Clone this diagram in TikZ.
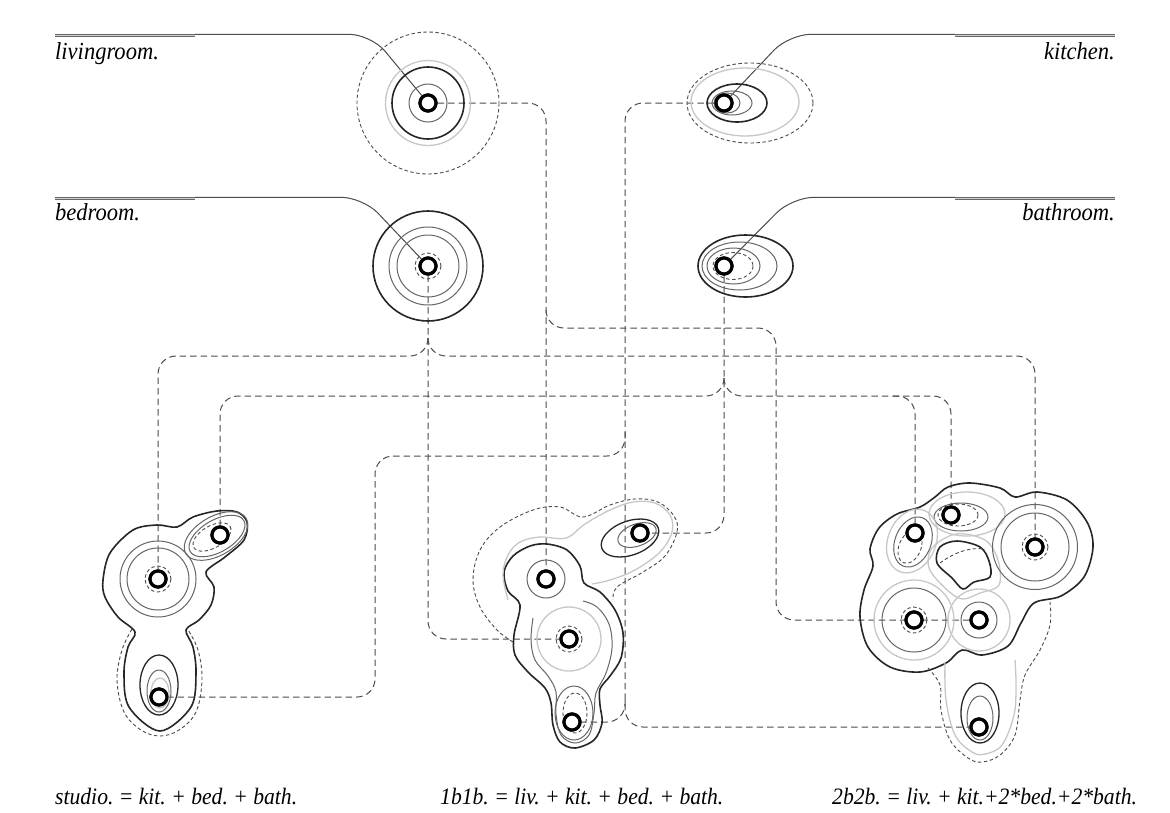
\documentclass[tikz,border=0pt]{standalone}
\usepackage{fontspec}
\setmainfont{Liberation Serif}
\newfontfamily\lblfont[FakeStretch=0.92]{Liberation Serif}
\begin{document}
\frenchspacing
\begin{tikzpicture}[x=1pt,y=-1pt,
  ringst/.style={circle,draw=black,line width=3.2pt,minimum size=16pt,inner sep=0pt,fill=white},
  cthick/.style={draw=black!85,line width=1.6pt},
  cmid/.style={draw=black!60,line width=1pt},
  clight/.style={draw=black!22,line width=1.3pt},
  cdash/.style={draw=black!70,line width=0.9pt,dash pattern=on 3.5pt off 2.5pt},
  conn/.style={draw=black!70,line width=1pt,dash pattern=on 6.5pt off 4pt,rounded corners=18pt},
  leader/.style={draw=black!70,line width=1pt,rounded corners=22pt},
  bar/.style={draw=black!60,line width=0.7pt,double=black!18,double distance=1.6pt},
  lbl/.style={font=\lblfont\fontsize{24.5}{28}\selectfont\itshape,inner sep=0pt},
  lblb/.style={font=\lblfont\fontsize{23.5}{28}\selectfont\itshape,inner sep=0pt},
]
\useasboundingbox (0,0) rectangle (1170,812);
\fill[white] (0,0) rectangle (1170,812);

% ---------- ring nodes ----------
\node[ringst] (liv) at (428,103) {};
\node[ringst] (kit) at (724,103) {};
\node[ringst] (bed) at (428,266) {};
\node[ringst] (bath) at (724,266) {};
\node[ringst] (sbed) at (158,579) {};
\node[ringst] (sbath) at (220,535) {};
\node[ringst] (skit) at (159,697) {};
\node[ringst] (l1) at (546,579) {};
\node[ringst] (b1) at (569,639) {};
\node[ringst] (ba1) at (640,533) {};
\node[ringst] (k1) at (572,722) {};
\node[ringst] (ba2a) at (951,515) {};
\node[ringst] (ba2b) at (915,533) {};
\node[ringst] (bd2a) at (914,620) {};
\node[ringst] (bd2b) at (1035,547) {};
\node[ringst] (lv2) at (979,620) {};
\node[ringst] (kt2) at (979,727) {};

% ---------- connectors ----------
\draw[conn] (liv) -| (l1);
\draw[conn] (546,310) -- (546,328) -- (776,328) -- (776,620) -- (lv2);
\draw[conn] (kit) -- (625,103) -- (625,727) -- (kt2);
\draw[conn] (625,700) -- (625,722) -- (k1);
\draw[conn] (625,432) -- (625,456) -- (375,456) -- (375,697) -- (skit);
\draw[conn] (bed) |- (b1);
\draw[conn] (428,338) -- (428,356) -- (158,356) -- (sbed);
\draw[conn] (428,338) -- (428,356) -- (1035,356) -- (bd2b);
\draw[conn] (bath) |- (ba1);
\draw[conn] (724,378) -- (724,396) -- (220,396) -- (sbath);
\draw[conn] (724,378) -- (724,396) -- (951,396) -- (ba2a);
\draw[conn] (893,396) -- (915,396) -- (ba2b);

% ---------- labels and leaders ----------
\draw[bar] (55,35.5) -- (195,35.5);
\draw[bar] (55,198.5) -- (195,198.5);
\draw[bar] (955,35.5) -- (1115,35.5);
\draw[bar] (955,198.5) -- (1115,198.5);
\draw[leader] (195,34.3) -- (371,34.3) -- (liv);
\draw[leader] (955,34.3) -- (789,34.3) -- (kit);
\draw[leader] (195,197.3) -- (363,197.3) -- (bed);
\draw[leader] (955,197.3) -- (792,197.3) -- (bath);
\node[lbl,anchor=base west] (tliv) at (55,59) {livingroom.};
\node[lbl,anchor=base east] (tkit) at (1115,59) {kitchen.};
\node[lbl,anchor=base west] (tbed) at (55,220) {bedroom.};
\node[lbl,anchor=base east] (tbath) at (1115,220) {bathroom.};
\node[lblb,anchor=base west] (tstu) at (55,804) {studio. = kit. + bed. + bath.};
\node[lblb,anchor=base west] (t1b) at (440,804) {1b1b. = liv. + kit. + bed. + bath.};
\node[lblb,anchor=base west] (t2b) at (832,804) {2b2b. = liv. + kit.+2*bed.+2*bath.};

% ---------- top symbols ----------
% living
\draw[clight] (428,103) circle[radius=42.5];
\draw[cthick] (428,103) circle[radius=36];
\draw[cmid] (428,103) circle[radius=19];
\draw[cdash] (428,103) circle[radius=71];
% kitchen
\draw[cdash] (750,103) ellipse[x radius=63,y radius=40];
\draw[clight] (745,102) ellipse[x radius=54,y radius=34];
\draw[cthick] (737,103) ellipse[x radius=30,y radius=19];
\draw[cmid] (732,103) ellipse[x radius=20,y radius=12];
\draw[cmid] (727,103) ellipse[x radius=13,y radius=10];
% bedroom
\draw[cdash] (428,266) circle[radius=13];
\draw[cmid] (428,266) circle[radius=31];
\draw[cmid] (428,266) circle[radius=39];
\draw[cthick] (428,266) circle[radius=55];
% bathroom
\draw[cthick] (745.5,266) ellipse[x radius=47.5,y radius=31];
\draw[cmid] (739.5,266) ellipse[x radius=37.5,y radius=24];
\draw[cmid] (733.5,266) ellipse[x radius=26.5,y radius=18];
\draw[cdash] (733,266) ellipse[x radius=20,y radius=13.5];

% ---------- studio ----------
\draw[cthick] plot[smooth cycle,tension=0.55] coordinates {(157,525) (177,527) (193,517) (217,511) (237,512) (247,522) (244,540) (225,557) (206,572) (214,587) (211,605) (199,620) (186,630) (193,647) (196,673) (191,707) (160,731) (129,707) (124,673) (128,647) (135,632) (118,617) (105,597) (103,580) (110,553) (133,530)};
\draw[cdash] plot[smooth,tension=0.6] coordinates {(132,629) (122,650) (117,680) (124,712) (141,730) (160,736) (179,730) (196,712) (202,680) (198,650) (187,628)};
\draw[cmid] (158,579) circle[radius=31];
\draw[cmid] (158,579) circle[radius=38];
\draw[cdash] (158,579) circle[radius=13];
\draw[cmid] (217,536) ellipse[x radius=31,y radius=16,rotate=30];
\draw[cmid] (216,536) ellipse[x radius=35,y radius=19.5,rotate=30];
\draw[cdash] (212,537) ellipse[x radius=21,y radius=11,rotate=30];
\draw[cthick,line width=1.3pt] (159,685) ellipse[x radius=19,y radius=30];
\draw[cmid] (159,691) ellipse[x radius=12,y radius=21];
\draw[clight] (160,693) ellipse[x radius=9,y radius=15];

% ---------- 1b1b ----------
\draw[cthick] plot[smooth cycle,tension=0.55] coordinates {(547,544) (567,550) (580,566) (584,583) (600,592) (615,610) (623,633) (621,658) (610,676) (600,689) (600,705) (602,723) (594,740) (575,748) (560,742) (553,725) (551,703) (545,688) (528,672) (515,655) (514,635) (520,605) (508,591) (504,572) (513,556) (530,546)};
\draw[cmid] (546,579) circle[radius=19];
\draw[clight] (569,639) circle[radius=32];
\draw[cdash] (569,639) circle[radius=13];
\draw[cmid] plot[smooth,tension=0.6] coordinates {(533,618) (531,640) (535,660) (548,676) (556,692) (556,714) (561,735) (575,743) (589,735) (594,713) (596,693) (606,673) (612,648) (609,624) (597,607) (583,601)};
\draw[cthick,line width=1.3pt] (630,538) ellipse[x radius=30,y radius=17,rotate=20];
\draw[cmid] (637,535) ellipse[x radius=20,y radius=11,rotate=20];
\draw[clight] plot[smooth,tension=0.6] coordinates {(508,600) (503,575) (508,555) (520,542) (540,537) (566,538) (585,524) (610,510) (633,502) (655,503) (670,515) (672,532) (660,552) (635,570) (610,580) (592,584)};
\draw[cdash] plot[smooth,tension=0.6] coordinates {(513,642) (497,630) (480,607) (473,580) (480,550) (500,527) (533,510) (560,507) (583,517) (610,505) (635,499) (658,502) (674,516) (677,532) (665,556) (643,572) (617,587) (613,600)};
\draw[cmid] (574,713) ellipse[x radius=19,y radius=27];
\draw[cdash] (575,713) ellipse[x radius=12,y radius=20];

% ---------- 2b2b ----------
\draw[cthick] plot[smooth cycle,tension=0.55] coordinates {(970,483) (1000,488) (1015,497) (1037,492) (1067,500) (1087,522) (1093,547) (1084,577) (1061,596) (1034,603) (1021,623) (1008,646) (982,655) (962,650) (946,663) (920,672) (890,667) (868,647) (860,617) (864,590) (873,566) (870,549) (879,528) (897,514) (920,507) (935,497) (948,487)};
\draw[cthick] plot[smooth cycle,tension=0.55] coordinates {(940,547) (957,541) (980,547) (989,561) (990,577) (974,582) (963,589) (952,578) (937,563)};
\draw[cdash] (940,563) .. controls (955,552) and (970,547) .. (985,549);
\draw[clight] plot[smooth cycle,tension=0.55] coordinates {(932,548) (956,534) (985,540) (998,560) (999,585) (980,593) (962,599) (945,588) (929,568)};
\draw[clight] (967,514) ellipse[x radius=38,y radius=22];
\draw[cmid] (961,517) ellipse[x radius=27,y radius=14];
\draw[cdash] (958,515) ellipse[x radius=20,y radius=11];
\draw[clight] (912,541) ellipse[x radius=33,y radius=24,rotate=68];
\draw[cmid] (913,542) ellipse[x radius=26,y radius=18,rotate=68];
\draw[cdash] (910,547) ellipse[x radius=17,y radius=11,rotate=68];
\draw[cdash] (1035,547) circle[radius=13];
\draw[cmid] (1035,547) circle[radius=34];
\draw[cmid] (1035,547) circle[radius=42.5];
\draw[clight] (914,620) circle[radius=40];
\draw[cmid] (914,620) circle[radius=32];
\draw[cdash] (914,620) circle[radius=13];
\draw[clight] (979,620) circle[radius=31];
\draw[cmid] (979,620) circle[radius=18];
\draw[clight] plot[smooth,tension=0.6] coordinates {(945,663) (946,700) (955,735) (972,752) (985,754) (1002,745) (1014,715) (1016,685) (1015,660)};
\draw[cdash] plot[smooth,tension=0.6] coordinates {(928,668) (940,685) (941,710) (950,740) (968,758) (982,762) (1000,755) (1015,735) (1020,700) (1025,675) (1040,650) (1050,625) (1050,602)};
\draw[cthick,line width=1.3pt] (980,713) ellipse[x radius=19,y radius=30];
\draw[cmid] (980,718) ellipse[x radius=13,y radius=22];

% ---------- rings on top ----------
\foreach \n in {liv,kit,bed,bath,sbed,sbath,skit,l1,b1,ba1,k1,ba2a,ba2b,bd2a,bd2b,lv2,kt2}
  \draw[black,line width=3.2pt,fill=white] (\n.center) circle[radius=8];
\end{tikzpicture}
\end{document}
